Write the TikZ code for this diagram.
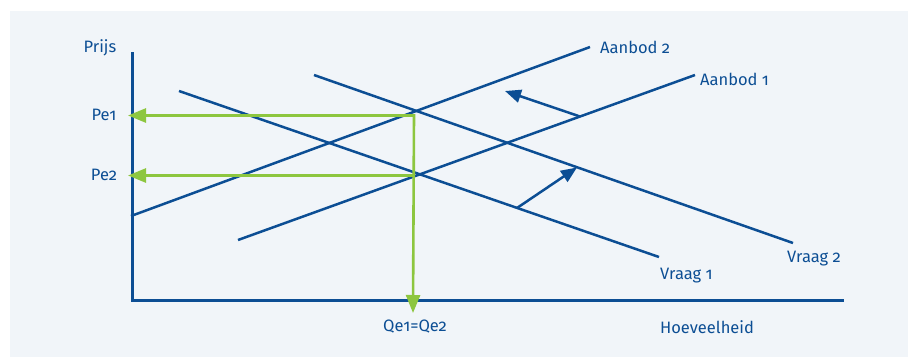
\documentclass[tikz,border=0pt]{standalone}
\usepackage{fontspec}
\setmainfont{Fira Sans}[Numbers=OldStyle]
\usetikzlibrary{arrows.meta}
\definecolor{navy}{RGB}{12,78,148}
\definecolor{lime}{RGB}{141,198,63}
\definecolor{panel}{RGB}{241,245,249}
\tikzset{
  curve/.style={draw=navy,line width=2.5pt},
  axisline/.style={draw=navy,line width=3pt},
  guide/.style={draw=lime,line width=2.6pt,-{Triangle[length=18pt,width=14pt]}},
  shiftarrow/.style={draw=navy,line width=2.5pt,-{Triangle[length=16pt,width=13pt]}},
  lab/.style={text=navy,font=\fontsize{16.5}{19}\selectfont,inner sep=0pt}
}
\begin{document}
\begin{tikzpicture}[x=1pt,y=-1pt]
\useasboundingbox (0,0) rectangle (908,357);
\fill[panel] (10,11) rectangle (908,357);
% axes
\coordinate (ytop) at (132,52);
\coordinate (orig) at (132,300.5);
\coordinate (xend) at (843.5,300.5);
\draw[axisline,line join=miter] (ytop) -- (orig) -- (xend);
% curves
\coordinate (a2s) at (131,216);
\coordinate (a2e) at (590,47);
\coordinate (a1s) at (238,240);
\coordinate (a1e) at (695,75);
\coordinate (v1s) at (179,91);
\coordinate (v1e) at (659,257);
\coordinate (v2s) at (314,75);
\coordinate (v2e) at (793,243);
\draw[curve] (a2s) -- (a2e);
\draw[curve] (a1s) -- (a1e);
\draw[curve] (v1s) -- (v1e);
\draw[curve] (v2s) -- (v2e);
% shift arrows
\coordinate (s1a) at (580,116.5);
\coordinate (s1b) at (505,91);
\coordinate (s2a) at (517,208);
\coordinate (s2b) at (577,167.5);
\draw[shiftarrow] (s1a) -- (s1b);
\draw[shiftarrow] (s2a) -- (s2b);
% green guides
\coordinate (e1) at (414,115.5);
\coordinate (e2) at (414,175.5);
\coordinate (pe1tip) at (128,115.5);
\coordinate (pe2tip) at (128,175.5);
\coordinate (qtip) at (413,313);
\draw[guide] (e1) -- (pe1tip);
\draw[guide] (e2) -- (pe2tip);
\draw[guide,shorten <=-1.3pt] (e1) -- (qtip);
% labels
\node[lab] (prijs) at (100,48) {Prijs};
\node[lab] (pe1) at (104,115) {Pe1};
\node[lab] (pe2) at (104,175) {Pe2};
\node[lab] (qe) at (415,327) {Qe1=Qe2};
\node[lab] (hoev) at (707,327) {Hoeveelheid};
\node[lab,anchor=west] (aan2) at (600,47) {Aanbod 2};
\node[lab,anchor=west] (aan1) at (700,79) {Aanbod 1};
\node[lab,anchor=west] (vr1) at (660,276) {Vraag 1};
\node[lab,anchor=west] (vr2) at (787,259) {Vraag 2};
\end{tikzpicture}
\end{document}
